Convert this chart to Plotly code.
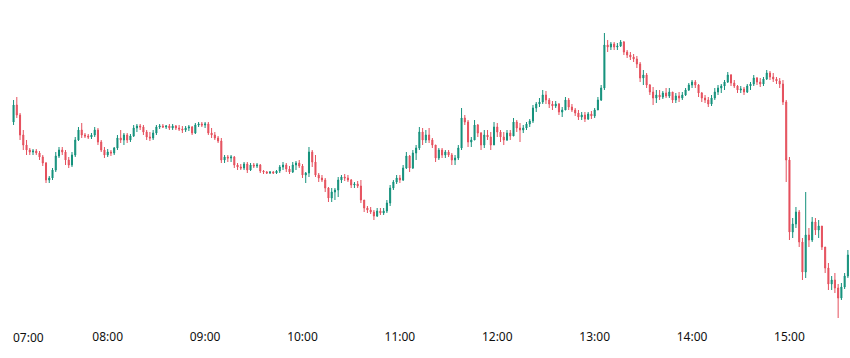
import pandas as pd
import plotly.graph_objects as go

open_ = [278,295,285,265,255,250,248,249,247,243,237,220,222,230,244,250,248,240,235,245,
         260,270,265,264,263,265,270,258,250,245,248,247,252,262,260,265,260,264,272,274,
         273,268,263,262,267,273,274,273,274,272,274,272,271,270,272,273,267,275,276,275,
         276,267,265,262,259,240,243,242,243,235,233,232,236,230,235,234,235,229,228,227,
         228,227,229,233,235,231,228,235,237,234,225,227,248,238,225,222,220,212,202,208,
         210,220,223,222,220,215,216,214,200,192,190,188,184,189,187,189,197,212,218,222,
         220,232,244,232,247,252,268,260,265,260,255,242,250,245,248,245,240,242,252,282,
         278,258,260,275,267,255,265,263,255,273,268,263,260,267,264,278,272,270,272,276,
         279,292,296,298,305,300,296,294,296,288,290,300,293,290,287,283,285,281,286,284,
         290,300,312,355,353,356,353,354,358,348,345,343,341,336,322,325,315,308,302,305,
         303,307,304,308,300,304,302,305,310,315,318,315,307,302,300,296,302,308,312,314,
         318,325,317,314,310,311,308,314,316,322,318,316,321,327,323,321,319,316,298,240,
         168,176,188,158,128,165,160,178,170,174,153,132,116,120,112,102,113,124]
high = [300,303,287,270,260,252,251,251,249,245,238,224,232,248,253,253,250,243,248,263,
        273,277,267,266,267,273,272,260,253,251,250,253,265,270,267,267,266,275,276,276,
        275,270,268,270,275,276,276,275,276,276,275,275,274,274,275,274,277,278,278,278,
        278,272,268,264,262,245,245,245,244,237,236,238,238,237,237,237,236,230,229,229,
        229,230,235,238,237,234,238,239,240,236,228,253,250,245,227,225,222,213,212,212,
        223,225,226,225,221,218,219,220,200,194,193,190,192,192,192,200,215,220,225,225,
        235,248,245,250,255,273,272,270,272,262,255,252,252,250,250,247,245,255,292,285,
        280,263,280,276,268,270,270,268,278,277,270,268,270,270,282,280,277,275,278,281,
        295,298,302,310,309,302,299,299,297,293,303,302,296,292,290,288,288,288,289,292,
        303,315,367,360,358,358,357,360,359,350,348,346,344,338,330,327,316,313,310,310,
        309,312,312,308,307,308,308,312,317,320,320,316,308,305,303,305,312,315,316,320,
        328,326,320,315,314,313,316,318,325,323,322,323,330,329,327,323,322,320,300,243,
        182,193,190,162,208,172,183,182,180,174,153,137,124,127,116,117,127,150]
low = [275,282,260,250,245,245,245,245,240,234,217,217,220,228,242,245,235,232,233,243,
       259,262,262,261,261,263,255,248,242,243,244,245,250,257,255,257,258,263,268,270,
       265,260,259,260,265,271,272,271,270,270,270,269,267,268,269,265,266,273,273,272,
       265,262,260,257,237,237,238,238,232,230,230,230,227,229,232,232,227,226,226,226,
       226,226,227,230,228,226,227,230,232,222,217,223,233,223,218,218,208,198,198,200,
       203,217,219,218,212,212,212,197,188,187,186,180,183,185,185,187,194,210,216,217,
       219,231,228,231,240,250,255,257,257,252,238,240,242,242,243,235,235,240,250,275,
       253,253,260,263,250,252,260,250,255,263,258,255,259,260,264,268,258,267,270,273,
       277,288,293,296,296,292,290,292,285,283,290,290,288,284,280,280,278,280,281,282,
       290,299,310,348,350,350,350,353,345,342,340,338,332,318,315,312,305,295,297,300,
       301,302,302,297,297,298,300,304,309,312,312,303,298,297,293,294,300,305,307,310,
       317,314,312,307,307,305,307,310,314,315,313,314,320,320,318,316,312,295,218,160,
       162,172,153,120,122,153,158,165,162,150,127,110,110,107,82,100,111,122]
close = [295,285,265,255,250,248,249,247,243,237,220,222,230,244,250,248,240,235,245,260,
         270,265,264,263,265,270,258,250,245,248,247,252,262,260,265,260,264,272,274,273,
         268,263,262,267,273,274,273,274,272,274,272,271,270,272,273,267,275,276,275,276,
         267,265,262,259,240,243,242,243,235,233,232,236,230,235,234,235,229,228,227,228,
         227,229,233,235,231,228,235,237,234,225,227,248,238,225,222,220,212,202,208,210,
         220,223,222,220,215,216,214,200,192,190,188,184,189,187,189,197,212,218,222,220,
         232,244,232,247,252,268,260,265,260,255,242,250,245,248,245,240,242,252,282,278,
         258,260,275,267,255,265,263,255,273,268,263,260,267,264,278,272,270,272,276,279,
         292,296,298,305,300,296,294,296,288,290,300,293,290,287,283,285,281,286,284,290,
         300,312,355,353,356,353,354,358,348,345,343,341,336,322,325,315,308,302,305,303,
         307,304,308,300,304,302,305,310,315,318,315,307,302,300,296,302,308,312,314,318,
         325,317,314,310,311,308,314,316,322,318,316,321,327,323,321,319,316,298,240,168,
         176,188,158,128,165,160,178,170,174,153,132,116,120,112,102,113,124,145]

times = pd.date_range("2024-03-15 07:02", periods=len(close), freq="2min")

hour_ticks = ["08:00", "09:00", "10:00", "11:00", "12:00", "13:00", "14:00", "15:00"]
first_tick = "07:00"

UP = "#14917c"
DOWN = "#e5505d"
TEXT = "#0f0f0f"

fig = go.Figure(go.Candlestick(
    x=times, open=open_, high=high, low=low, close=close,
    increasing=dict(line=dict(color=UP, width=1), fillcolor=UP),
    decreasing=dict(line=dict(color=DOWN, width=1), fillcolor=DOWN),
    whiskerwidth=0,
    showlegend=False,
    hoverinfo="skip",
))

tickvals = [pd.Timestamp("2024-03-15 " + t) for t in hour_ticks]

fig.update_layout(
    width=850, height=358,
    margin=dict(l=0, r=0, t=0, b=38),
    paper_bgcolor="white", plot_bgcolor="white",
    boxgap=0.55,
    font=dict(family="Noto Sans", size=12, color=TEXT),
    xaxis=dict(
        type="date",
        range=["2024-03-15 06:53:39", "2024-03-15 15:37:18"],
        rangeslider=dict(visible=False),
        tickvals=tickvals, ticktext=hour_ticks,
        showgrid=False, zeroline=False, showline=False, ticks="",
        tickfont=dict(family="Noto Sans", size=12, color=TEXT),
        ticklabelstandoff=8,
    ),
    yaxis=dict(range=[80, 400], visible=False, showgrid=False, zeroline=False),
    annotations=[dict(
        x=pd.Timestamp("2024-03-15 " + first_tick), xref="x",
        y=0, yref="paper", yanchor="top", xanchor="left",
        text=first_tick, showarrow=False, xshift=1, yshift=-7,
        font=dict(family="Noto Sans", size=12, color=TEXT),
    )],
)

fig.write_html("out.html")
